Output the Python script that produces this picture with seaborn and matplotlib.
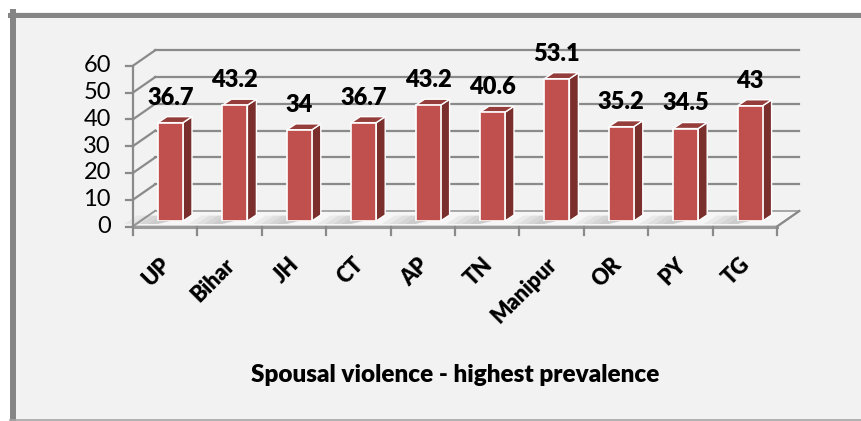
import numpy as np
import pandas as pd
import seaborn as sns
import matplotlib
matplotlib.use("Agg")
import matplotlib.pyplot as plt
from matplotlib.patches import Polygon, Rectangle
from matplotlib.lines import Line2D
from matplotlib.transforms import Affine2D, IdentityTransform

# ---- data ----
states = ["UP", "Bihar", "JH", "CT", "AP", "TN", "Manipur", "OR", "PY", "TG"]
values = [36.7, 43.2, 34, 36.7, 43.2, 40.6, 53.1, 35.2, 34.5, 43]
y_ticks = [0, 10, 20, 30, 40, 50, 60]
title = "Spousal violence - highest prevalence"

plt.rcParams["font.family"] = ["Lato", "DejaVu Sans"]
BOLD = "heavy"

W, H = 862, 421
fig = plt.figure(figsize=(W / 100, H / 100), dpi=100)
fig.patch.set_facecolor("white")

def fx(px):
    return px / W

def fy(py):
    return 1 - py / H

# panel background and frame
fig.add_artist(Rectangle((fx(10), 0), 1, fy(12), transform=fig.transFigure,
                         facecolor="#f2f2f2", edgecolor="none", zorder=-2))
fig.add_artist(Line2D([fx(13), fx(13)], [fy(12), fy(421)], color="#858585", lw=4.3, zorder=-1))
fig.add_artist(Line2D([fx(10), 1], [fy(14.5), fy(14.5)], color="#858585", lw=3.6, zorder=-1))
fig.add_artist(Line2D([fx(10), 1], [fy(419.8), fy(419.8)], color="#a6a6a6", lw=1.2, zorder=-1))

# axes = plane of the bar front faces
left, right, bot, top = 138.3, 782.3, 221.0, 60.2
ax = fig.add_axes([fx(left), fy(bot), (right - left) / W, (bot - top) / H])
ax.set_facecolor("none")

df = pd.DataFrame({"state": states, "value": values})
sns.barplot(data=df, x="state", y="value", order=states, color="#C0504D",
            saturation=1, width=25 / 64.4, edgecolor="white", linewidth=1.2,
            ax=ax, zorder=3)
ax.set_xlim(-0.5, len(states) - 0.5)
ax.set_ylim(0, 60)
ax.set_autoscale_on(False)
ax.axis("off")

front_t = ax.transData + Affine2D().translate(-5.3, -5.5)
back_t = ax.transData + Affine2D().translate(17, 10)
grid_c = "#8a8a8a"
x0, x1 = -0.5, len(states) - 0.5
bars = list(ax.patches)

# floor
pts = np.vstack([front_t.transform([(x0, 0), (x1, 0)]),
                 back_t.transform([(x1, 0), (x0, 0)])])
ax.add_patch(Polygon(pts, closed=True, transform=IdentityTransform(),
                     facecolor="#f6f6f6", edgecolor="#9a9a9a", lw=1.2,
                     clip_on=False, zorder=1))

# back-wall gridlines and left-wall diagonals
for v in y_ticks:
    if v > 0:
        ax.plot([x0, x1], [v, v], transform=back_t, color=grid_c, lw=1.6,
                clip_on=False, zorder=0.5)
    d = np.vstack([front_t.transform([(x0, v)]), back_t.transform([(x0, v)])])
    ax.add_line(Line2D(d[:, 0], d[:, 1], transform=IdentityTransform(),
                       color=grid_c, lw=1.6, clip_on=False, zorder=0.6))
    t = front_t.transform([(x0, v)])[0]
    ax.add_line(Line2D([t[0] - 7, t[0]], [t[1], t[1]], transform=IdentityTransform(),
                       color=grid_c, lw=1.6, clip_on=False, zorder=2))
    ax.text(x0, v, str(v), transform=front_t + Affine2D().translate(-22, 0),
            ha="right", va="center", fontsize=17, color="black")

# front vertical axis
ax.plot([x0, x0], [0, 60], transform=front_t, color=grid_c, lw=1.6,
        clip_on=False, zorder=2)
# right floor edge
d = np.vstack([front_t.transform([(x1, 0)]), back_t.transform([(x1, 0)])])
ax.add_line(Line2D(d[:, 0], d[:, 1], transform=IdentityTransform(),
                   color=grid_c, lw=1.6, clip_on=False, zorder=2))
# front horizontal axis + category ticks
ax.plot([x0, x1], [0, 0], transform=front_t, color="#9a9a9a", lw=2.2,
        clip_on=False, zorder=2)
for k in range(len(states) + 1):
    t = front_t.transform([(k - 0.5, 0)])[0]
    ax.add_line(Line2D([t[0], t[0]], [t[1], t[1] - 8], transform=IdentityTransform(),
                       color=grid_c, lw=1.6, clip_on=False, zorder=2))

# 3D side/top faces and floor shadows of bars
off = np.array([9, 6])
for p in bars:
    bx, bw, bh = p.get_x(), p.get_width(), p.get_height()
    bl, br, tr, tl = ax.transData.transform([(bx, 0), (bx + bw, 0), (bx + bw, bh), (bx, bh)])
    for k, reach in enumerate([34, 26, 18, 10]):
        shadow = [bl + (0, -3), br + off * 0.9, br + off * 0.9 - (bw * 0 + reach + 20, 0),
                  bl + (-reach, -3)]
        ax.add_patch(Polygon(shadow, closed=True, transform=IdentityTransform(),
                             facecolor="#7a7a7a", alpha=0.09, edgecolor="none",
                             clip_on=False, zorder=1.2))
    side = [br, tr, tr + off, br + off]
    topf = [tl, tr, tr + off, tl + off]
    ax.add_patch(Polygon(side, closed=True, transform=IdentityTransform(),
                         facecolor="#7B2F2D", edgecolor="white", lw=1.0,
                         clip_on=False, zorder=2.5))
    ax.add_patch(Polygon(topf, closed=True, transform=IdentityTransform(),
                         facecolor="#953D3A", edgecolor="white", lw=1.0,
                         clip_on=False, zorder=2.6))

# value labels
for i, v in enumerate(values):
    ax.annotate(f"{v:g}", (i, v), xytext=(0, 13), textcoords="offset points",
                ha="center", va="baseline", fontsize=17, fontweight=BOLD,
                annotation_clip=False, zorder=5)

# category labels
for i, s in enumerate(states):
    ax.text(i, 0, s, transform=front_t + Affine2D().translate(2, -35),
            rotation=45, rotation_mode="anchor", ha="right", va="center",
            fontsize=15.5, fontweight=BOLD)

# title
ax.text((x0 + x1) / 2, 0, title, transform=front_t + Affine2D().translate(0, -148.5),
        ha="center", va="center", fontsize=17.5, fontweight=BOLD)

fig.savefig("out.png", dpi=100)
